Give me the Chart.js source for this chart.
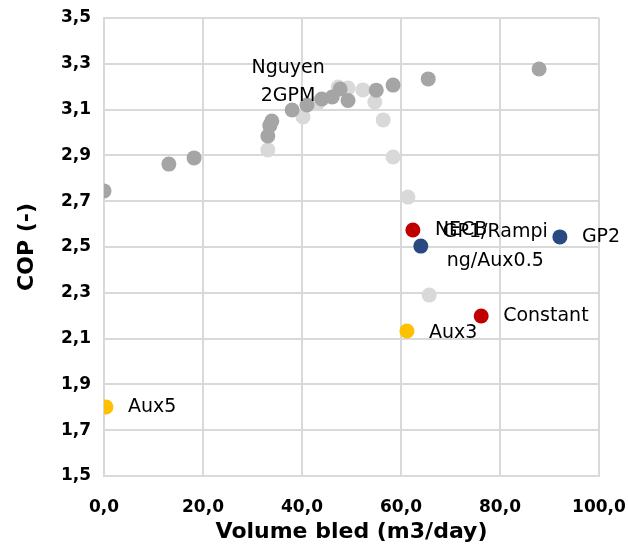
<!DOCTYPE html>
<html>
<head>
<meta charset="utf-8">
<title>COP vs volume bled</title>
<script src="https://cdn.jsdelivr.net/npm/chart.js@4/dist/chart.umd.min.js"></script>
<style>
    html, body { margin: 0; padding: 0; background: #fff; }
    canvas { display: block; }
</style>
</head>
<body>
<canvas id="copChart" width="628" height="549"></canvas>
<script>
// Axis ticks
const xTicks = [0, 20, 40, 60, 80, 100];
const yTicks = [1.5, 1.7, 1.9, 2.1, 2.3, 2.5, 2.7, 2.9, 3.1, 3.3, 3.5];

// Nguyen 2GPM runs
const nguyenX = [0.0, 13.1, 18.2, 33.1, 33.5, 33.9, 38.0, 41.0, 44.0, 46.1, 47.7, 49.3, 55.0, 58.4, 65.5, 87.9];
const nguyenY = [2.745, 2.862, 2.889, 2.985, 3.03, 3.05, 3.098, 3.12, 3.146, 3.155, 3.19, 3.14, 3.185, 3.207, 3.234, 3.277];
const nguyenLabel = ['Nguyen', '2GPM'];

// other reference runs (unlabelled)
const refX = [33.1, 40.2, 43.2, 47.3, 49.3, 52.3, 54.7, 56.4, 58.4, 61.4, 65.7];
const refY = [2.924, 3.068, 3.129, 3.199, 3.194, 3.186, 3.133, 3.055, 2.893, 2.718, 2.29];

// control strategies
const necbX = [62.4], necbY = [2.574], necbLabel = ['NECB'];
const gp1X = [64.0], gp1Y = [2.504], gp1Label = ['GP1/Rampi', 'ng/Aux0.5'];
const gp2X = [92.1], gp2Y = [2.544], gp2Label = ['GP2'];
const constantX = [76.2], constantY = [2.199], constantLabel = ['Constant'];
const aux3X = [61.2], aux3Y = [2.133], aux3Label = ['Aux3'];
const aux5X = [0.4], aux5Y = [1.801], aux5Label = ['Aux5'];

const toPoints = (xs, ys) => xs.map((x, i) => ({ x: x, y: ys[i] }));
const comma = (v) => Number(v).toFixed(1).replace('.', ',');

const GRID = '#d9d9d9';
const LABEL_FONT = '19px "DejaVu Sans"';
const LINE_H = 29;

function series(xs, ys, color, order, label, place) {
    return {
        data: toPoints(xs, ys),
        backgroundColor: color,
        borderWidth: 0,
        pointRadius: 7.5,
        pointHoverRadius: 7.5,
        order: order,
        textLabel: label,
        textPlace: place
    };
}

// writes the series name next to its point
const pointTextPlugin = {
    id: 'pointText',
    afterDatasetsDraw(chart) {
        const ctx = chart.ctx;
        ctx.save();
        ctx.font = LABEL_FONT;
        ctx.fillStyle = '#000';
        ctx.textBaseline = 'middle';
        ctx.textAlign = 'center';
        chart.data.datasets.forEach((ds, i) => {
            if (!ds.textLabel) return;
            const place = ds.textPlace;
            const pt = chart.getDatasetMeta(i).data[place.index];
            const lines = ds.textLabel;
            const n = lines.length;
            if (place.side === 'right') {
                const w = Math.max(...lines.map(l => ctx.measureText(l).width));
                const cx = pt.x + place.gap + w / 2;
                lines.forEach((l, k) => {
                    ctx.fillText(l, cx, pt.y + place.dy + (k - (n - 1) / 2) * LINE_H);
                });
            } else {
                lines.forEach((l, k) => {
                    ctx.fillText(l, pt.x + place.dx, pt.y + place.dy - (n - 1 - k) * (LINE_H - 1));
                });
            }
        });
        ctx.restore();
    }
};

const right = { side: 'right', index: 0, gap: 22, dy: 0 };

new Chart(document.getElementById('copChart'), {
    type: 'scatter',
    data: {
        datasets: [
            series(necbX, necbY, '#c00000', 1, necbLabel, right),
            series(gp1X, gp1Y, '#284a80', 1, gp1Label, right),
            series(gp2X, gp2Y, '#284a80', 1, gp2Label, right),
            series(constantX, constantY, '#c00000', 1, constantLabel, right),
            series(aux3X, aux3Y, '#ffc000', 1, aux3Label, { side: 'right', index: 0, gap: 22, dy: 2 }),
            series(aux5X, aux5Y, '#ffc000', 1, aux5Label, right),
            series(nguyenX, nguyenY, '#a5a5a5', 2, nguyenLabel, { side: 'above', index: 6, dx: -4, dy: -14 }),
            series(refX, refY, '#d9d9d9', 3, null, null)
        ]
    },
    options: {
        responsive: false,
        animation: false,
        layout: { padding: { top: 18, right: 29, bottom: 0, left: 0 } },
        plugins: {
            legend: { display: false },
            tooltip: { enabled: false }
        },
        scales: {
            x: {
                type: 'linear',
                min: 0,
                max: 100,
                afterBuildTicks: (scale) => { scale.ticks = xTicks.map(v => ({ value: v })); },
                afterFit: (scale) => {
                    scale.height = 73;
                    scale.paddingLeft = 0;
                    scale.paddingRight = 0;
                },
                grid: { color: GRID, lineWidth: 2, drawTicks: false },
                border: { color: GRID, width: 2 },
                ticks: {
                    padding: 21,
                    color: '#000',
                    font: { family: 'DejaVu Sans', size: 17, weight: 'bold' },
                    callback: (v) => comma(v)
                },
                title: {
                    display: true,
                    text: 'Volume bled (m3/day)',
                    color: '#000',
                    font: { family: 'DejaVu Sans', size: 22, weight: 'bold' },
                    padding: { top: 0, bottom: 4 }
                }
            },
            y: {
                type: 'linear',
                min: 1.5,
                max: 3.5,
                afterBuildTicks: (scale) => { scale.ticks = yTicks.map(v => ({ value: v })); },
                afterFit: (scale) => {
                    scale.width = 104;
                    scale.paddingTop = 0;
                    scale.paddingBottom = 0;
                },
                grid: { color: GRID, lineWidth: 2, drawTicks: false },
                border: { color: GRID, width: 2 },
                ticks: {
                    padding: 13,
                    color: '#000',
                    font: { family: 'DejaVu Sans', size: 17, weight: 'bold' },
                    callback: (v) => comma(v)
                },
                title: {
                    display: true,
                    text: 'COP (-)',
                    color: '#000',
                    font: { family: 'DejaVu Sans', size: 22, weight: 'bold' },
                    padding: { top: 14, bottom: 0 }
                }
            }
        }
    },
    plugins: [pointTextPlugin]
});
</script>
</body>
</html>
